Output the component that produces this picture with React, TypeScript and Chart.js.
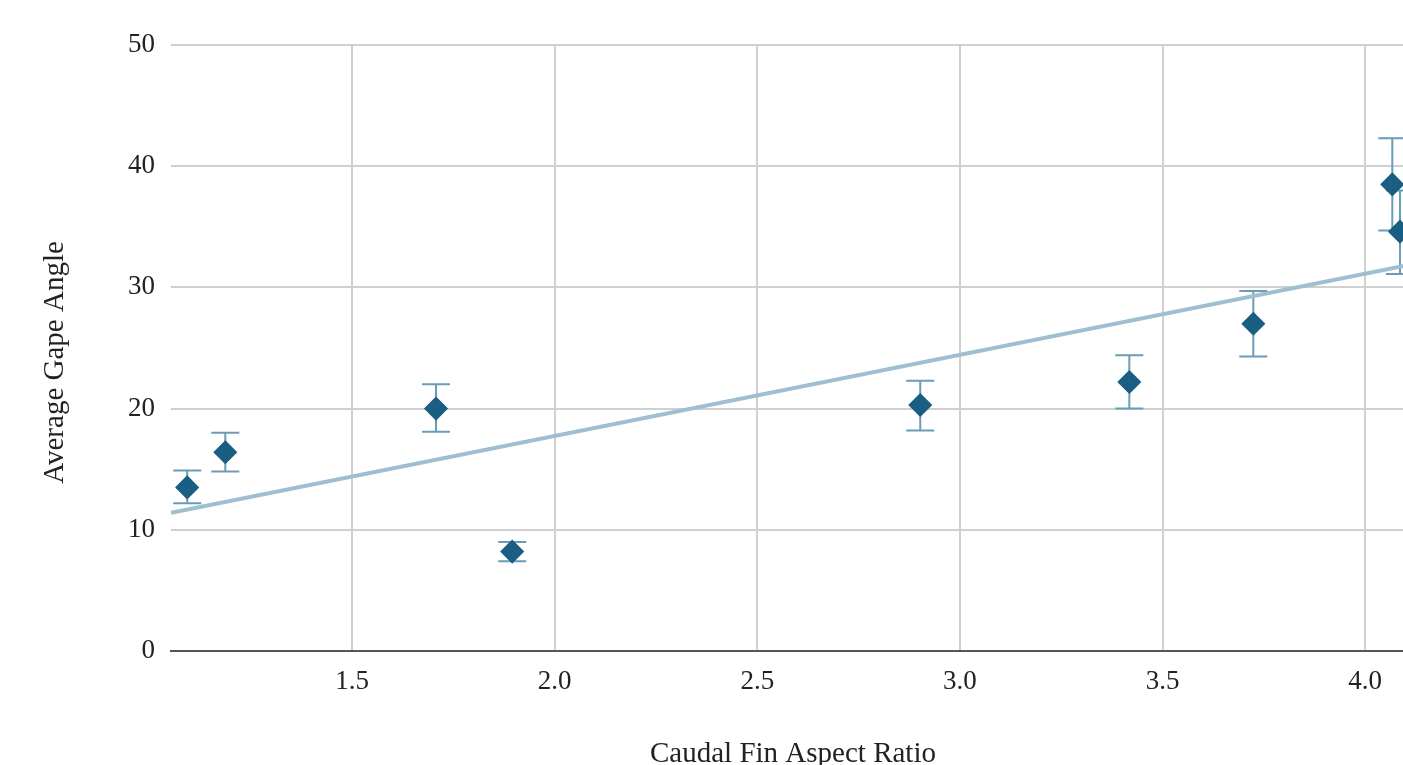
import React, { useEffect, useRef } from "react";
import { Chart, registerables } from "chart.js";

Chart.register(...registerables);

// ---- Data ----
const chartTitle = "Average Gape Angle vs. Caudal Fin Aspect Ratio";
const xAxisTitle = "Caudal Fin Aspect Ratio";
const yAxisTitle = "Average Gape Angle";

const aspectRatio = [1.093, 1.187, 1.707, 1.895, 2.902, 3.418, 3.724, 4.067, 4.086];
const gapeAngle = [13.5, 16.4, 20.0, 8.2, 20.3, 22.2, 27.0, 38.5, 34.6];
const gapeHigh = [14.9, 18.0, 22.0, 9.0, 22.3, 24.4, 29.7, 42.3, 38.0];
const gapeLow = [12.2, 14.8, 18.1, 7.4, 18.2, 20.0, 24.3, 34.7, 31.1];

const trendX = [1.053, 4.123];
const trendY = [11.4, 31.96];

const xTicks = [1.5, 2.0, 2.5, 3.0, 3.5, 4.0];
const xTickLabels = ["1.5", "2.0", "2.5", "3.0", "3.5", "4.0"];
const yTicks = [0, 10, 20, 30, 40, 50];
const yTickLabels = ["0", "10", "20", "30", "40", "50"];

const X_MIN = 1.053;
const X_MAX = 4.123;
const Y_MIN = 0;
const Y_MAX = 50;

// ---- Styles ----
const FONT = "'Liberation Serif', 'Times New Roman', serif";
const POINT_COLOR = "#1a5e84";
const ERR_COLOR = "#6b9cb6";
const TREND_COLOR = "#9dbfd0";
const GRID_COLOR = "#d0d0d0";
const TEXT_COLOR = "#222222";

const errorBarPlugin = {
  id: "errorBars",
  beforeDatasetsDraw(chart: any) {
    const { ctx } = chart;
    const xs = chart.scales.x;
    const ys = chart.scales.y;
    ctx.save();
    ctx.strokeStyle = ERR_COLOR;
    ctx.lineWidth = 2;
    aspectRatio.forEach((v, i) => {
      const px = xs.getPixelForValue(v);
      const top = ys.getPixelForValue(gapeHigh[i]);
      const bot = ys.getPixelForValue(gapeLow[i]);
      const cap = 14;
      ctx.beginPath();
      ctx.moveTo(px, top);
      ctx.lineTo(px, bot);
      ctx.moveTo(px - cap, top);
      ctx.lineTo(px + cap, top);
      ctx.moveTo(px - cap, bot);
      ctx.lineTo(px + cap, bot);
      ctx.stroke();
    });
    ctx.restore();
  },
};

export default function App() {
  const canvasRef = useRef<HTMLCanvasElement | null>(null);

  useEffect(() => {
    if (!canvasRef.current) return;
    const points = aspectRatio.map((x, i) => ({ x, y: gapeAngle[i] }));
    const trend = trendX.map((x, i) => ({ x, y: trendY[i] }));

    const chart = new Chart(canvasRef.current, {
      type: "scatter",
      data: {
        datasets: [
          {
            type: "scatter",
            data: points,
            pointStyle: "rectRot",
            pointRadius: 11,
            pointHoverRadius: 11,
            backgroundColor: POINT_COLOR,
            borderColor: POINT_COLOR,
            borderWidth: 1.5,
          } as any,
          {
            type: "line",
            data: trend,
            borderColor: TREND_COLOR,
            borderWidth: 4,
            pointRadius: 0,
            fill: false,
            tension: 0,
          } as any,
        ],
      },
      options: {
        animation: false,
        responsive: false,
        devicePixelRatio: 1,
        layout: { padding: { top: 0, left: 35, right: 15, bottom: 0 } },
        plugins: {
          legend: { display: false },
          tooltip: { enabled: false },
          title: {
            display: true,
            text: chartTitle,
            align: "start",
            color: "#555555",
            font: { family: FONT, size: 46, weight: "bold" },
            padding: { top: 0.5, bottom: 40.3 },
          },
        },
        scales: {
          x: {
            type: "linear",
            min: X_MIN,
            max: X_MAX,
            afterBuildTicks: (s: any) => {
              s.ticks = xTicks.map((value) => ({ value }));
            },
            afterFit: (s: any) => {
              s.height = 149;
            },
            ticks: {
              autoSkip: false,
              maxRotation: 0,
              padding: 15,
              color: TEXT_COLOR,
              font: { family: FONT, size: 27 },
              callback: (v: any) => {
                const idx = xTicks.indexOf(Number(v));
                return idx >= 0 ? xTickLabels[idx] : "";
              },
            },
            grid: { color: GRID_COLOR, lineWidth: 2, drawTicks: false },
            border: { display: true, color: "#555555", width: 2 },
            title: {
              display: true,
              text: xAxisTitle,
              color: TEXT_COLOR,
              font: { family: FONT, size: 29 },
              padding: { top: 0, bottom: 28.6 },
            },
          },
          y: {
            type: "linear",
            min: Y_MIN,
            max: Y_MAX,
            afterBuildTicks: (s: any) => {
              s.ticks = yTicks.map((value) => ({ value }));
            },
            afterFit: (s: any) => {
              s.width = 136;
            },
            ticks: {
              padding: 16,
              color: TEXT_COLOR,
              font: { family: FONT, size: 27 },
              callback: (v: any) => {
                const idx = yTicks.indexOf(Number(v));
                return idx >= 0 ? yTickLabels[idx] : "";
              },
            },
            grid: { color: GRID_COLOR, lineWidth: 2, drawTicks: false },
            border: { display: false },
            title: {
              display: true,
              text: yAxisTitle + "\u00A0\u00A0\u00A0\u00A0",
              color: TEXT_COLOR,
              font: { family: FONT, size: 29 },
              padding: { top: 2.6, bottom: 0 },
            },
          },
        },
      } as any,
      plugins: [errorBarPlugin],
    });

    return () => chart.destroy();
  }, []);

  return (
    <div
      style={{
        position: "fixed",
        left: 0,
        top: 0,
        width: "100vw",
        height: "100vh",
        overflow: "hidden",
        background: "#ffffff",
      }}
    >
      <canvas
        ref={canvasRef}
        width={1430}
        height={851}
        style={{ position: "absolute", left: 0, top: -51, width: 1430, height: 851 }}
      />
    </div>
  );
}
